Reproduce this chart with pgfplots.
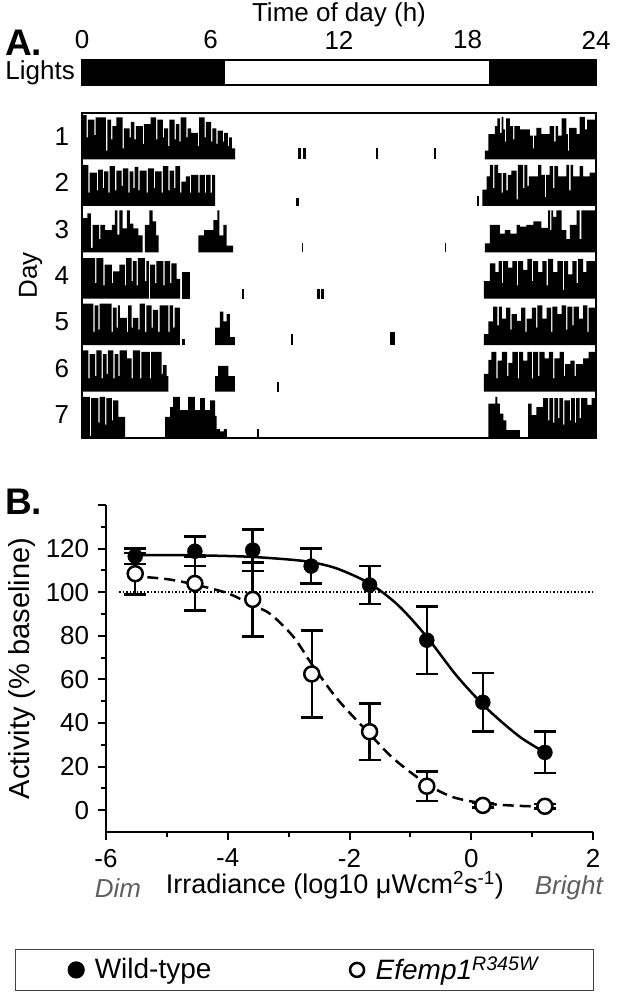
\documentclass[border=0pt]{standalone}
\usepackage{fontspec}
\setmainfont{Liberation Sans}
\usepackage{pgfplots}
\pgfplotsset{compat=1.18}
\definecolor{dimgray}{RGB}{95,95,95}

\pgfplotsset{
  dayax/.style={scale only axis, width=514pt, height=46.43pt, xmin=0, xmax=24,
    ymin=0, ymax=1.05, hide axis, anchor=south west},
  act/.style={ybar interval, fill=black, draw=none},
}

\begin{document}
\fontsize{26}{31}\selectfont
\begin{tikzpicture}[x=1pt,y=1pt]

\node[anchor=base west, inner sep=0pt, font=\fontsize{37}{40}\selectfont\bfseries] at (5pt,940pt) {A.};
\node[anchor=base west, inner sep=0pt, font=\fontsize{37}{40}\selectfont\bfseries] at (5pt,481pt) {B.};

% lights bar
\begin{axis}[scale only axis, width=514pt, height=25pt, at={(82pt,911pt)}, anchor=south west,
  xmin=0, xmax=24, ymin=0, ymax=1,
  xtick={0,6,12,18,24}, xticklabels={0,6,12,18,24}, xticklabel pos=upper,
  xticklabel style={yshift=2pt},
  ytick={0.5}, yticklabels={Lights}, major tick length=0pt,
  yticklabel style={inner sep=0pt, xshift=-7pt},
  axis line style={line width=1.5pt}, axis on top,
  xlabel={Time of day (h)},
  xlabel style={at={(axis description cs:0.5,1)}, anchor=base, inner sep=0pt, yshift=38pt}]
\addplot[act] coordinates {(0,1)(6.7,1)};
\addplot[act] coordinates {(19.0,1)(24,1)};
\end{axis}

% actogram, one axis per day; each block ends at a point whose height is unused
\begin{axis}[dayax, at={(82pt,836.6pt)}]
\addplot[act] coordinates {(0,1.0)(0.22,0.5)(0.28,0.9)(0.58,0.55)(0.64,0.95)(1.12,0.2)(1.18,0.9)(1.36,0.45)(1.42,0.75)(1.6,0.95)(1.9,0.25)(1.96,0.7)(2.22,0.5)(2.28,0.85)(2.45,0.45)(2.51,0.75)(2.84,0.35)(2.9,0.8)(3.2,0.95)(3.46,0.45)(3.52,0.9)(3.78,0.5)(3.84,0.7)(4.02,0.3)(4.08,0.9)(4.32,0.45)(4.38,0.8)(4.55,0.4)(4.61,0.95)(4.87,0.5)(4.93,0.7)(5.1,0.6)(5.41,0.3)(5.47,0.95)(5.72,0.5)(5.78,0.85)(6.03,0.4)(6.09,0.7)(6.27,0.35)(6.33,0.65)(6.58,0.4)(6.64,0.6)(6.81,0.3)(6.87,0.5)(7.0,0.25)(7.15,0)};
\addplot[act] coordinates {(10.1,0.25)(10.24,0)};
\addplot[act] coordinates {(10.3,0.25)(10.44,0)};
\addplot[act] coordinates {(13.74,0.25)(13.82,0)};
\addplot[act] coordinates {(16.45,0.25)(16.53,0)};
\addplot[act] coordinates {(18.81,0.2)(18.97,0.57)(19.28,0.75)(19.39,0.93)(19.51,0.6)(19.59,0.96)(19.67,0.68)(19.74,0.4)(19.8,0.93)(19.98,0.75)(20.13,0.45)(20.19,0.75)(20.44,0.68)(20.91,0.54)(21.05,0.25)(21.11,0.54)(21.22,0.71)(21.45,0.57)(21.84,0.75)(22.05,0.4)(22.11,0.75)(22.23,0.54)(22.39,0.93)(22.62,0.57)(22.69,0.2)(22.75,0.71)(23.09,0.57)(23.24,0.96)(23.48,0.68)(23.58,0.9)(24,0)};
\end{axis}

\begin{axis}[dayax, at={(82pt,790.1pt)}]
\addplot[act] coordinates {(0,0.93)(0.3,0.3)(0.36,0.75)(0.69,0.35)(0.75,0.82)(0.97,0.4)(1.03,0.78)(1.23,0.3)(1.29,0.9)(1.54,0.35)(1.6,0.8)(1.85,0.45)(1.91,0.85)(2.16,0.3)(2.22,0.78)(2.4,0.4)(2.46,0.88)(2.63,0.35)(2.69,0.8)(3.02,0.3)(3.08,0.85)(3.36,0.4)(3.42,0.78)(3.72,0.3)(3.78,0.9)(4.03,0.35)(4.09,0.8)(4.3,0.4)(4.36,0.9)(4.58,0.3)(4.64,0.55)(4.85,0.67)(5.04,0.3)(5.1,0.7)(5.43,0.3)(5.49,0.7)(5.74,0.3)(5.8,0.7)(6.01,0.3)(6.07,0.7)(6.21,0)};
\addplot[act] coordinates {(10.0,0.18)(10.12,0)};
\addplot[act] coordinates {(18.45,0.22)(18.55,0)};
\addplot[act] coordinates {(18.7,0.37)(18.89,0.67)(19.04,0.93)(19.2,0.4)(19.26,0.93)(19.43,0.74)(19.59,0.3)(19.65,0.74)(19.82,0.35)(19.88,0.7)(20.05,0.8)(20.29,0.15)(20.35,0.93)(20.6,0.4)(20.66,0.93)(20.8,0.45)(20.86,0.67)(21.3,0.93)(21.45,0.7)(21.61,0.2)(21.67,0.7)(21.84,0.9)(22.0,0.4)(22.06,0.9)(22.23,0.67)(22.62,0.93)(22.75,0.35)(22.81,0.93)(22.93,0.67)(23.24,0.9)(23.4,0.67)(23.7,0.75)(24,0)};
\end{axis}

\begin{axis}[dayax, at={(82pt,743.7pt)}]
\addplot[act] coordinates {(0,0.77)(0.25,0.88)(0.41,0.1)(0.5,0.62)(0.8,0.3)(0.86,0.62)(1.08,0.5)(1.39,0.62)(1.54,0.95)(1.65,0.4)(1.75,0.95)(1.9,0.54)(2.09,0.95)(2.24,0.65)(2.4,0.54)(2.63,0.38)(2.83,0)};
\addplot[act] coordinates {(2.94,0.62)(3.14,0.95)(3.3,0.7)(3.46,0.38)(3.58,0)};
\addplot[act] coordinates {(5.43,0.38)(5.7,0.5)(6.13,0.73)(6.32,0.95)(6.41,0.38)(6.6,0.62)(6.75,0.15)(7.06,0)};
\addplot[act] coordinates {(10.25,0.2)(10.33,0)};
\addplot[act] coordinates {(16.93,0.2)(17.01,0)};
\addplot[act] coordinates {(18.81,0.2)(19.04,0.62)(19.51,0.42)(19.75,0.5)(20.0,0.42)(20.29,0.62)(20.44,0.58)(20.75,0.62)(21.07,0.7)(21.45,0.55)(21.76,0.95)(21.86,0.5)(21.92,0.95)(22.0,0.8)(22.15,0.95)(22.39,0.5)(22.62,0.3)(22.78,0.62)(23.09,0.95)(23.24,0.3)(23.32,0.95)(24,0)};
\end{axis}

\begin{axis}[dayax, at={(82pt,697.3pt)}]
\addplot[act] coordinates {(0,0.92)(0.61,0.35)(0.67,0.92)(1.0,0.3)(1.06,0.77)(1.39,0.35)(1.45,0.62)(1.75,0.77)(2.0,0.3)(2.06,0.92)(2.32,0.4)(2.38,0.85)(2.55,0.3)(2.61,0.92)(2.94,0.4)(3.0,0.85)(3.12,0)};
\addplot[act] coordinates {(3.18,0.77)(3.41,0.35)(3.47,0.85)(3.8,0.3)(3.86,0.85)(4.11,0.35)(4.17,0.8)(4.42,0.45)(4.58,0)};
\addplot[act] coordinates {(4.65,0.6)(5.04,0)};
\addplot[act] coordinates {(7.45,0.22)(7.55,0)};
\addplot[act] coordinates {(10.95,0.22)(11.1,0)};
\addplot[act] coordinates {(11.18,0.22)(11.3,0)};
\addplot[act] coordinates {(18.77,0.4)(19.05,0.8)(19.3,0.6)(19.45,0.85)(19.6,0.35)(19.66,0.85)(19.9,0.7)(20.1,0.85)(20.3,0.3)(20.36,0.85)(20.6,0.65)(20.8,0.9)(21.0,0.4)(21.06,0.85)(21.3,0.6)(21.5,0.85)(21.7,0.3)(21.76,0.9)(22.0,0.6)(22.2,0.85)(22.45,0.2)(22.51,0.85)(22.7,0.55)(22.9,0.85)(23.1,0.35)(23.16,0.9)(23.4,0.6)(23.55,0.85)(24,0)};
\end{axis}

\begin{axis}[dayax, at={(82pt,650.8pt)}]
\addplot[act] coordinates {(0,0.94)(0.53,0.3)(0.59,0.9)(0.76,0.35)(0.82,0.94)(1.38,0.3)(1.44,0.85)(1.62,0.4)(1.68,0.9)(1.77,0.62)(2.09,0.3)(2.15,0.9)(2.32,0.4)(2.38,0.62)(2.63,0.35)(2.69,0.94)(2.94,0.3)(3.0,0.9)(3.25,0.4)(3.31,0.8)(3.56,0.3)(3.62,0.9)(4.03,0.3)(4.09,0.9)(4.26,0.4)(4.32,0.85)(4.57,0)};
\addplot[act] coordinates {(4.65,0.15)(4.81,0)};
\addplot[act] coordinates {(6.21,0.4)(6.44,0.76)(6.6,0.54)(6.75,0.7)(6.91,0.18)(7.14,0)};
\addplot[act] coordinates {(9.78,0.25)(9.86,0)};
\addplot[act] coordinates {(14.4,0.3)(14.6,0)};
\addplot[act] coordinates {(18.76,0.25)(18.97,0.54)(19.2,0.87)(19.4,0.45)(19.46,0.87)(19.6,0.6)(19.8,0.85)(20.0,0.35)(20.06,0.7)(20.3,0.55)(20.5,0.85)(20.7,0.3)(20.76,0.6)(21.0,0.85)(21.2,0.4)(21.26,0.9)(21.5,0.6)(21.7,0.85)(21.9,0.3)(21.96,0.87)(22.2,0.7)(22.4,0.9)(22.6,0.35)(22.66,0.87)(22.9,0.45)(22.96,0.87)(23.2,0.6)(23.4,0.9)(23.6,0.3)(23.66,0.85)(24,0)};
\end{axis}

\begin{axis}[dayax, at={(82pt,604.4pt)}]
\addplot[act] coordinates {(0,0.93)(0.3,0.3)(0.36,0.85)(0.61,0.35)(0.67,0.93)(0.92,0.3)(0.98,0.85)(1.15,0.4)(1.21,0.93)(1.46,0.3)(1.52,0.85)(1.7,0.35)(1.76,0.93)(2.09,0.75)(2.32,0.3)(2.38,0.93)(2.71,0.3)(2.77,0.9)(3.17,0.3)(3.23,0.9)(3.72,0.4)(3.78,0.6)(3.95,0.35)(4.03,0)};
\addplot[act] coordinates {(6.21,0.35)(6.36,0.58)(6.83,0.35)(7.14,0)};
\addplot[act] coordinates {(9.12,0.22)(9.2,0)};
\addplot[act] coordinates {(18.76,0.4)(18.97,0.72)(19.12,0.9)(19.35,0.3)(19.41,0.7)(19.6,0.9)(19.85,0.35)(19.91,0.65)(20.1,0.9)(20.35,0.3)(20.41,0.9)(20.6,0.7)(20.8,0.9)(21.0,0.3)(21.06,0.9)(21.3,0.35)(21.36,0.9)(21.6,0.75)(21.8,0.9)(22.0,0.3)(22.06,0.75)(22.3,0.9)(22.5,0.35)(22.56,0.62)(22.8,0.7)(23.0,0.35)(23.06,0.62)(23.4,0.75)(23.65,0.9)(24,0)};
\end{axis}

\begin{axis}[dayax, at={(82pt,558pt)}]
\addplot[act] coordinates {(0,0.93)(0.37,0.05)(0.43,0.9)(0.76,0.35)(0.82,0.93)(1.08,0.3)(1.14,0.9)(1.39,0.4)(1.45,0.85)(1.7,0.48)(2.01,0)};
\addplot[act] coordinates {(3.88,0.48)(4.11,0.7)(4.26,0.93)(4.57,0.63)(4.96,0.93)(5.27,0.63)(5.51,0.9)(5.74,0.63)(5.98,0.85)(6.21,0.5)(6.29,0.2)(6.44,0.15)(6.62,0.2)(6.77,0)};
\addplot[act] coordinates {(8.15,0.2)(8.25,0)};
\addplot[act] coordinates {(18.97,0.78)(19.3,0.93)(19.4,0.78)(19.51,0.55)(19.67,0.4)(19.82,0.18)(20.44,0)};
\addplot[act] coordinates {(20.83,0.78)(20.99,0.52)(21.22,0.7)(21.53,0.9)(21.76,0.4)(21.82,0.9)(22.0,0.35)(22.06,0.9)(22.23,0.45)(22.29,0.9)(22.46,0.3)(22.52,0.85)(22.78,0.4)(22.84,0.9)(23.01,0.35)(23.07,0.9)(23.24,0.45)(23.3,0.9)(23.6,0.75)(23.8,0.9)(24,0)};
\end{axis}

% actogram frame with day labels
\begin{axis}[scale only axis, width=514pt, height=325pt, at={(82pt,558pt)}, anchor=south west,
  xmin=0, xmax=24, ymin=0, ymax=7, xtick=\empty,
  ytick={0.5,1.5,2.5,3.5,4.5,5.5,6.5}, yticklabels={7,6,5,4,3,2,1},
  yticklabel style={xshift=-4pt},
  major tick length=0pt, axis line style={line width=2.5pt},
  ylabel={Day}, ylabel style={at={(axis description cs:-0.1,0.5)}, anchor=center}]
\end{axis}

% panel B
\begin{axis}[scale only axis, width=487pt, height=327pt, at={(106pt,164pt)}, anchor=south west,
  xmin=-6, xmax=2, ymin=-10, ymax=140,
  axis x line*=bottom, axis y line*=left, axis line style={line width=2pt},
  xtick={-6,-4,-2,0,2}, xticklabels={-6,-4,-2,0,2}, minor xtick={-5,-3,-1,1},
  ytick={0,20,40,60,80,100,120}, yticklabels={0,20,40,60,80,100,120},
  minor ytick={10,30,50,70,90,110,130}, extra y ticks={140}, extra y tick labels={},
  tick align=outside, major tick length=8pt, minor tick length=5pt,
  every tick/.append style={line width=2pt, black},
  xlabel={Irradiance (log10 μWcm\textsuperscript{2}s\textsuperscript{-1})},
  xlabel style={at={(axis description cs:0.47,-0.162)}, anchor=center, font=\fontsize{27}{32}\selectfont},
  ylabel={Activity (\% baseline)},
  ylabel style={at={(axis description cs:-0.172,0.5)}, anchor=center, font=\fontsize{29}{34}\selectfont},
  legend columns=2,
  legend style={at={(axis description cs:-0.1869,-0.3578)}, anchor=north west,
    draw=black!75, line width=1.2pt, inner xsep=52pt, inner ysep=5pt,
    font=\fontsize{28}{33}\selectfont,
    /tikz/every odd column/.append style={column sep=8pt},
    /tikz/every even column/.append style={column sep=135pt}},
  legend image code/.code={\path (-8pt,0pt) (8pt,0pt); \draw[#1] plot coordinates {(0pt,0pt)};}]

\addplot[dash pattern=on 1.5pt off 2pt, line width=1.5pt, forget plot] coordinates {(-5.78,100)(2,100)};

\addplot[black, line width=2.5pt, smooth, forget plot] coordinates {(-5.6,117)(-5,117)(-4.5,116.9)(-4,116.6)(-3.6,116.2)(-3,115)(-2.63,113.8)(-2.2,110.8)(-1.67,104)(-1.2,94)(-0.73,79.5)(-0.25,62)(0.19,48.5)(0.5,40.5)(0.83,33)(1.21,26.5)};

\addplot[black, line width=2.5pt, dash pattern=on 11pt off 6pt, smooth, forget plot] coordinates {(-5.6,107.5)(-5,106)(-4.54,103.5)(-4,99.5)(-3.59,94)(-3.3,90)(-2.92,79.5)(-2.62,67)(-2.2,51)(-1.67,35)(-1.27,23.5)(-0.73,12)(-0.3,6)(0.19,3.2)(0.7,2.1)(1.21,1.6)};

\addplot[only marks, mark=*, mark size=7.5pt, black, forget plot,
  error bars/.cd, y dir=both, y explicit,
  error bar style={line width=2.5pt, black},
  error mark options={rotate=90, mark size=11pt, line width=2.5pt, black}]
coordinates {(-5.52,116.5) +- (0,3.5) (-4.54,118.8) +- (0,6.8) (-3.59,119.3) +- (0,9.5) (-2.63,112) +- (0,8) (-1.67,103.3) +- (0,8.7) (-0.73,78) +- (0,15.5) (0.19,49.5) +- (0,13.5) (1.21,26.5) +- (0,9.5)};

\addplot[only marks, mark=*, mark size=7.5pt, mark options={fill=white, draw=black, line width=2.5pt}, forget plot,
  error bars/.cd, y dir=both, y explicit,
  error bar style={line width=2.5pt, black},
  error mark options={rotate=90, mark size=11pt, line width=2.5pt, black}]
coordinates {(-5.52,108.5) +- (0,9.5) (-4.54,104) +- (0,12.3) (-3.59,96.7) +- (0,17) (-2.62,62.5) +- (0,20) (-1.67,36) +- (0,13) (-0.73,11) +- (0,6.8) (0.19,2.2) +- (0,1) (1.21,1.8) +- (0,1)};

\addlegendimage{only marks, mark=*, mark size=8pt, black}
\addlegendentry{Wild-type}
\addlegendimage{only marks, mark=*, mark size=7pt, mark options={fill=white, draw=black, line width=2.5pt}}
\addlegendentry{\textit{Efemp1}\textsuperscript{\textit{R345W}}}
\end{axis}

\node[font=\itshape, text=dimgray] at (118pt,108pt) {Dim};
\node[font=\itshape, text=dimgray, anchor=east, inner sep=0pt] at (603pt,108pt) {Bright};
\path (0pt,0pt) rectangle (605pt,996pt);
\end{tikzpicture}
\end{document}
